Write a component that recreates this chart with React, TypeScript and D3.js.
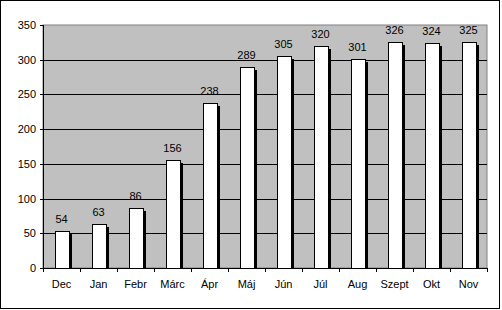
import React from "react";
import * as d3 from "d3";

const categories = ["Dec", "Jan", "Febr", "Márc", "Ápr", "Máj", "Jún", "Júl", "Aug", "Szept", "Okt", "Nov"];
const values = [54, 63, 86, 156, 238, 289, 305, 320, 301, 326, 324, 325];
const yTicks = [0, 50, 100, 150, 200, 250, 300, 350];

const W = 502;
const H = 310;
const left = 43, right = 487, top = 25, bottom = 268;

export default function App() {
  const x = d3.scaleBand<string>().domain(categories).range([left, right]);
  const y = d3.scaleLinear().domain([0, 350]).range([bottom, top]);
  const bw = 14;
  const font = "'Liberation Sans', Arial, sans-serif";
  return (
    <svg width={W} height={H} style={{ position: "absolute", left: 0, top: 0, display: "block" }}>
      <rect x={0} y={0} width={W} height={H} fill="#fff" />
      <rect x={0.5} y={0.5} width={499} height={308} fill="#fff" stroke="#000" />
      <rect x={left} y={top} width={right - left} height={bottom - top} fill="#C0C0C0" stroke="#808080" />
      {yTicks.filter((t) => t > 0 && t < 350).map((t) => (
        <line key={t} x1={left} x2={right} y1={Math.round(y(t)) + 0.5} y2={Math.round(y(t)) + 0.5} stroke="#000" />
      ))}
      {categories.map((c, i) => {
        const cx = x(c)! + x.bandwidth() / 2;
        const bx = Math.round(cx - bw / 2);
        const by = Math.round(y(values[i]));
        return (
          <g key={c}>
            <rect x={bx + 3} y={by + 3} width={bw} height={bottom - by - 3} fill="#000" />
            <rect x={bx + 0.5} y={by + 0.5} width={bw} height={bottom - by} fill="#fff" stroke="#000" />
            <text x={cx} y={by - 8} textAnchor="middle" fontFamily={font} fontSize={11} fill="#000">
              {values[i]}
            </text>
            <text x={cx} y={288} textAnchor="middle" fontFamily={font} fontSize={11} fill="#000">
              {c}
            </text>
          </g>
        );
      })}
      <line x1={left + 0.5} x2={left + 0.5} y1={top} y2={bottom + 0.5} stroke="#000" />
      <line x1={left} x2={right + 0.5} y1={bottom + 0.5} y2={bottom + 0.5} stroke="#000" />
      {yTicks.map((t) => (
        <g key={t}>
          <line x1={left - 3} x2={left} y1={Math.round(y(t)) + 0.5} y2={Math.round(y(t)) + 0.5} stroke="#000" />
          <text x={36} y={y(t) + 4} textAnchor="end" fontFamily={font} fontSize={11} fill="#000">
            {t}
          </text>
        </g>
      ))}
      {categories.map((c, i) => (
        <line key={c} x1={Math.round(x(c)!) + 0.5} x2={Math.round(x(c)!) + 0.5} y1={bottom} y2={bottom + 4} stroke="#000" />
      ))}
      <line x1={right + 0.5} x2={right + 0.5} y1={bottom} y2={bottom + 4} stroke="#000" />
    </svg>
  );
}
